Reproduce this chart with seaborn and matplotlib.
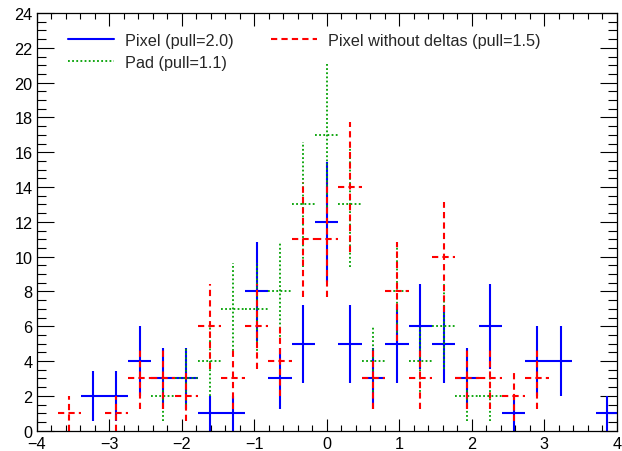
import numpy as np
import pandas as pd
import matplotlib
matplotlib.use("Agg")
import matplotlib.pyplot as plt
import seaborn as sns
from matplotlib.lines import Line2D
from matplotlib.ticker import MultipleLocator

# Histogram binning: 31 bins on [-5, 5]; visible bins k = -11 .. 12 (bin index 15 is centred on 0)
n_bins = 31
x_lo, x_hi = -5.0, 5.0
bin_index = list(range(-11, 13))

pixel_counts = [0, 2, 2, 4, 3, 3, 1, 1, 8, 3, 5, 12, 5, 3, 5, 6, 5, 3, 6, 1, 4, 4, 0, 1]
pad_counts   = [0, 0, 0, 0, 2, 3, 4, 7, 7, 8, 13, 17, 13, 4, 8, 4, 6, 2, 2, 0, 0, 0, 0, 0]
nodelta_counts = [1, 0, 1, 3, 3, 2, 6, 3, 6, 4, 11, 11, 14, 3, 8, 3, 10, 3, 3, 2, 3, 0, 0, 0]

labels = ["Pixel (pull=2.0)", "Pad (pull=1.1)", "Pixel without deltas (pull=1.5)"]
x_ticks = [-4, -3, -2, -1, 0, 1, 2, 3, 4]
y_ticks = [0, 2, 4, 6, 8, 10, 12, 14, 16, 18, 20, 22, 24]

width = (x_hi - x_lo) / n_bins
rows = []
for name, counts in zip(labels, [pixel_counts, pad_counts, nodelta_counts]):
    for k, c in zip(bin_index, counts):
        rows.append({"series": name, "x": k * width, "count": c})
df = pd.DataFrame(rows)
df["err"] = np.sqrt(df["count"])

sns.set_theme(style="ticks")
plt.rcParams["font.family"] = ["Liberation Sans", "DejaVu Sans"]

fig = plt.figure(figsize=(6.22, 4.52), dpi=100)
ax = fig.add_axes([36.7 / 622, 1 - 431.7 / 452, 580 / 622, 417.7 / 452])

styles = {
    labels[0]: dict(color="#0000ff", lw=1.5, ls="-"),
    labels[1]: dict(color="#00a000", lw=1.3, ls=(0, (1, 1.3))),
    labels[2]: dict(color="#ff0000", lw=1.5, ls=(0, (3, 2))),
}

for name in labels:
    d = df[(df["series"] == name) & (df["count"] > 0)]
    st = styles[name]
    ax.hlines(d["count"], d["x"] - width / 2, d["x"] + width / 2,
              colors=st["color"], linewidths=st["lw"], linestyles=st["ls"])
    ax.vlines(d["x"], d["count"] - d["err"], d["count"] + d["err"],
              colors=st["color"], linewidths=st["lw"], linestyles=st["ls"])

ax.set_xlim(-4, 4)
ax.set_ylim(0, 24)
ax.set_xticks(x_ticks)
ax.set_yticks(y_ticks)
ax.set_xticklabels([f"{t}".replace("-", "\u2212") for t in x_ticks])
ax.xaxis.set_minor_locator(MultipleLocator(0.2))
ax.yaxis.set_minor_locator(MultipleLocator(0.5))
ax.tick_params(axis="both", which="both", direction="in", top=True, right=True,
               labelsize=11.7, colors="black", width=0.8)
ax.tick_params(axis="x", which="major", length=9)
ax.tick_params(axis="x", which="minor", length=4.5)
ax.tick_params(axis="y", which="major", length=12)
ax.tick_params(axis="y", which="minor", length=6.5)
ax.tick_params(axis="x", pad=4)
ax.tick_params(axis="y", pad=3)
for sp in ax.spines.values():
    sp.set_visible(True)
    sp.set_linewidth(0.9)
    sp.set_color("black")
ax.set_facecolor("white")
fig.patch.set_facecolor("white")

handles = [Line2D([], [], color=styles[n]["color"], lw=styles[n]["lw"], ls=styles[n]["ls"]) for n in labels]
ax.legend(handles, labels, ncol=2, loc="upper left", bbox_to_anchor=(0.054, 0.953),
          frameon=False, fontsize=11.7, handlelength=2.85, handletextpad=0.65,
          columnspacing=2.3, labelspacing=0.43, borderpad=0, borderaxespad=0)

fig.savefig("out.png", dpi=100)
